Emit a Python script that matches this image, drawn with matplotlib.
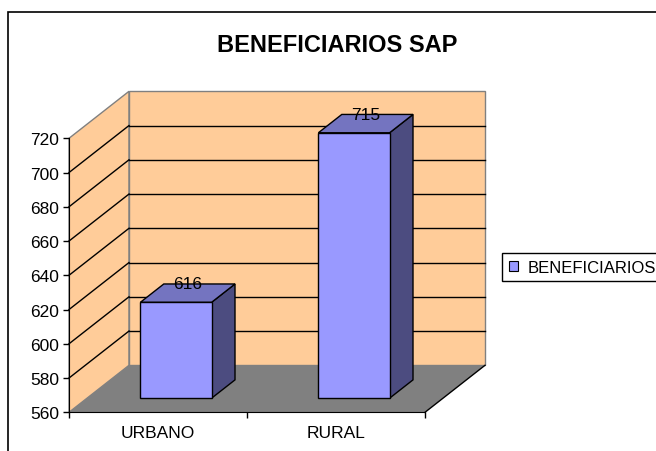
import matplotlib
matplotlib.use("Agg")
import matplotlib.pyplot as plt
from matplotlib.patches import Polygon, Rectangle, Patch

# datos del grafico
categories = ["URBANO", "RURAL"]
beneficiarios = [616, 715]
y_ticks = [560, 580, 600, 620, 640, 660, 680, 700, 720]
series_name = "BENEFICIARIOS"
title = "BENEFICIARIOS SAP"

plt.rcParams['font.family'] = ['Liberation Sans', 'DejaVu Sans']

W, H = 656, 452
fig = plt.figure(figsize=(W / 100, H / 100), dpi=100)
fig.patch.set_facecolor("white")

# marco exterior (cortado por la derecha y abajo como en el original)
fig.patches.append(Rectangle((8 / W, -0.1), 1.2, 0.1 + (1 - 13 / H),
                             transform=fig.transFigure, fill=False,
                             ec="black", lw=1.2))

ax = fig.add_axes([69 / W, 1 - 413.3 / H, 356 / W, 274 / H])
ymin, ymax = y_ticks[0], y_ticks[-1]
n = len(categories)
ax.set_xlim(0, n)
ax.set_ylim(ymin, ymax)
ax.patch.set_visible(False)

# desplazamiento de profundidad (efecto 3D) en unidades de datos
ddx = 60 / (356 / n)
ddy = 47 / (274 / (ymax - ymin))

wall = "#FFCC99"
edge = "#808080"
fs = 12.5

# paredes y piso
side = Polygon([(0, ymin), (0, ymax), (ddx, ymax + ddy), (ddx, ymin + ddy)],
               fc=wall, ec=edge, lw=1, clip_on=False, zorder=0)
back = Polygon([(ddx, ymin + ddy), (ddx, ymax + ddy), (n + ddx, ymax + ddy), (n + ddx, ymin + ddy)],
               fc=wall, ec=edge, lw=1, clip_on=False, zorder=0)
floor = Polygon([(0, ymin), (n, ymin), (n + ddx, ymin + ddy), (ddx, ymin + ddy)],
                fc="#808080", ec="none", clip_on=False, zorder=0.5)
for p in (side, back, floor):
    ax.add_patch(p)
ax.plot([n, n + ddx], [ymin, ymin + ddy], color="black", lw=1, clip_on=False, zorder=0.6)

# lineas de division
for v in y_ticks[1:-1]:
    ax.plot([ddx, n + ddx], [v + ddy, v + ddy], color="black", lw=1, clip_on=False, zorder=0.2)
    ax.plot([0, ddx], [v, v + ddy], color="black", lw=1, clip_on=False, zorder=0.2)

# barras 3D
bw = 0.4
z0, z1 = 0.30, 0.69
for i, v in enumerate(beneficiarios):
    x0 = i + 0.5 - bw / 2 + z0 * ddx
    x1 = x0 + bw
    yb = ymin + z0 * ddy
    yt = v + z0 * ddy
    sx = (z1 - z0) * ddx
    sy = (z1 - z0) * ddy
    front = Polygon([(x0, yb), (x0, yt), (x1, yt), (x1, yb)],
                    fc="#9999FF", ec="black", lw=1, clip_on=False, zorder=2)
    top = Polygon([(x0, yt), (x1, yt), (x1 + sx, yt + sy), (x0 + sx, yt + sy)],
                  fc="#7474C0", ec="black", lw=1, clip_on=False, zorder=2)
    right = Polygon([(x1, yb), (x1, yt), (x1 + sx, yt + sy), (x1 + sx, yb + sy)],
                    fc="#4C4C80", ec="black", lw=1, clip_on=False, zorder=2)
    for p in (right, top, front):
        ax.add_patch(p)
    ax.text(i + 0.5 + 0.5 * ddx, v + z1 * ddy, str(v), ha="center", va="center",
            fontsize=fs, zorder=3)

# ejes
for s in ("top", "right"):
    ax.spines[s].set_visible(False)
ax.spines["left"].set_color("black")
ax.spines["bottom"].set_color("black")
ax.set_yticks(y_ticks)
ax.tick_params(axis="y", direction="out", length=4, width=1, labelsize=fs, pad=3)
ax.set_xticks(range(n + 1))
ax.set_xticklabels([])
ax.tick_params(axis="x", which="major", direction="out", length=4, width=1)
ax.set_xticks([i + 0.5 for i in range(n)], minor=True)
ax.set_xticklabels(categories, minor=True)
ax.tick_params(axis="x", which="minor", length=0, labelsize=fs, pad=9)

fig.text(337.5 / W, 1 - 46 / H, title, ha="center", va="center",
         fontsize=17, fontweight="bold")

# leyenda: el original queda pegada al borde derecho
handle = Patch(fc="#9999FF", ec="black", lw=0.8)
fig.legend(handles=[handle], labels=[series_name], loc="upper left",
           bbox_to_anchor=(502 / W, 1 - 254 / H), frameon=True, fancybox=False,
           edgecolor="black", framealpha=1, fontsize=12, handlelength=0.55,
           handleheight=0.55, handletextpad=0.6, borderaxespad=0)

fig.savefig("out.png", dpi=100)
